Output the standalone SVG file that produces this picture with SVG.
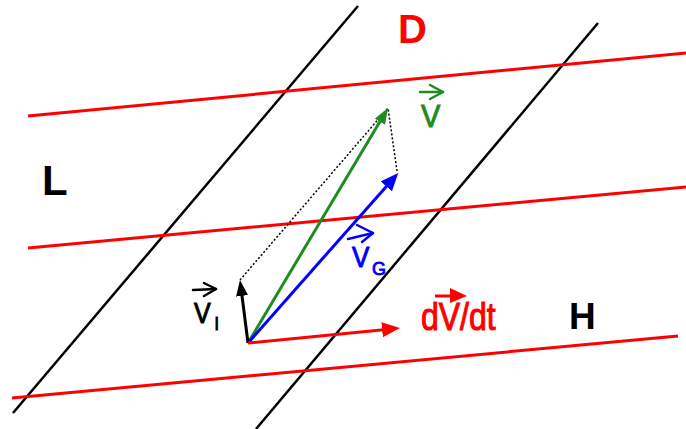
<svg xmlns="http://www.w3.org/2000/svg" width="686" height="429" viewBox="0 0 686 429">
  <defs>
    <marker id="ah" markerUnits="userSpaceOnUse" viewBox="0 0 16 12" markerWidth="16" markerHeight="12" refX="4" refY="6" orient="auto">
      <path d="M0,0 L16,6 L0,12 z" fill="context-stroke"/>
    </marker>
    <marker id="ahL" markerUnits="userSpaceOnUse" viewBox="0 0 18 15" markerWidth="18" markerHeight="15" refX="4" refY="7.5" orient="auto">
      <path d="M0,0 L18,7.5 L0,15 z" fill="context-stroke"/>
    </marker>
    <style>
      .blk { stroke:#000; stroke-width:2.5; fill:none; }
      .red { stroke:#ff0000; stroke-width:3; fill:none; }
      .vec { stroke-width:3; fill:none; }
      .dot { stroke:#000; stroke-width:1.5; stroke-dasharray:2,2; fill:none; }
      .chev { stroke-width:2.5; fill:none; stroke-linecap:round; stroke-linejoin:round; }
      .big { font-family:"Liberation Sans", Arial, sans-serif; font-weight:bold; }
      .lab { font-family:"Liberation Sans", Arial, sans-serif; stroke-width:0.9; }
    </style>
  </defs>

  <g id="grid-lines">
    <line class="blk" x1="358" y1="6" x2="13" y2="413"/>
    <line class="blk" x1="598" y1="23" x2="256" y2="429"/>
    <line class="red" x1="28" y1="116" x2="686" y2="53"/>
    <line class="red" x1="28" y1="248" x2="686" y2="187"/>
    <line class="red" x1="12" y1="398" x2="678" y2="336"/>
  </g>

  <g id="connectors">
    <line class="dot" x1="240" y1="280" x2="388" y2="108"/>
    <line class="dot" x1="397" y1="171" x2="388" y2="108"/>
    <line class="vec" stroke="#1e8c1e" x1="248" y1="343" x2="381.9" y2="118.3" marker-end="url(#ah)"/>
    <line class="vec" stroke="#0000ff" x1="248" y1="343" x2="389" y2="183.4" marker-end="url(#ahL)"/>
    <line class="vec" stroke="#000000" x1="248" y1="343" x2="241.5" y2="291.9" marker-end="url(#ah)"/>
    <line class="vec" stroke="#ff0000" x1="248" y1="343" x2="386.1" y2="329.4" marker-end="url(#ahL)"/>
  </g>

  <g id="label-D"><text class="big" x="398" y="43" font-size="40" fill="#ff0000">D</text></g>
  <g id="label-L"><text class="big" x="42" y="195" font-size="42" fill="#000">L</text></g>
  <g id="label-H"><text class="big" x="569" y="329" font-size="37" fill="#000">H</text></g>

  <g id="label-V">
    <line class="chev" stroke="#1e8c1e" x1="420" y1="92" x2="443" y2="92"/>
    <polyline class="chev" stroke="#1e8c1e" points="430,85 443,92 430,99"/>
    <text class="lab" transform="translate(421,127) scale(1,1.05)" font-size="29" fill="#1e8c1e" stroke="#1e8c1e">V</text>
  </g>

  <g id="label-VG">
    <line class="chev" stroke="#0000ff" x1="348" y1="239" x2="373" y2="233"/>
    <polyline class="chev" stroke="#0000ff" points="357,225 373,233 362,242"/>
    <text class="lab" transform="translate(352,267) scale(1,1.1)" font-size="26" fill="#0000ff" stroke="#0000ff">V</text>
    <text class="lab" x="372" y="275" font-size="18" fill="#0000ff" stroke="#0000ff">G</text>
  </g>

  <g id="label-VI">
    <line class="chev" stroke="#000" x1="193" y1="290" x2="216" y2="289"/>
    <polyline class="chev" stroke="#000" points="204,283 216,289 204,296"/>
    <text class="lab" transform="translate(194,323) scale(1,1.2)" font-size="25" fill="#000" stroke="#000">V</text>
    <text class="lab" transform="translate(214.5,330) scale(1,1.1)" font-size="16" fill="#000" stroke="#000">I</text>
  </g>

  <g id="label-dVdt">
    <line stroke="#ff0000" stroke-width="3" x1="435" y1="296" x2="452" y2="296"/>
    <path d="M450,288 L467,296 L450,303 z" fill="#ff0000"/>
    <text class="lab" transform="translate(421,330) scale(1,1.2)" font-size="32" fill="#ff0000" stroke="#ff0000">dV/dt</text>
  </g>
</svg>
